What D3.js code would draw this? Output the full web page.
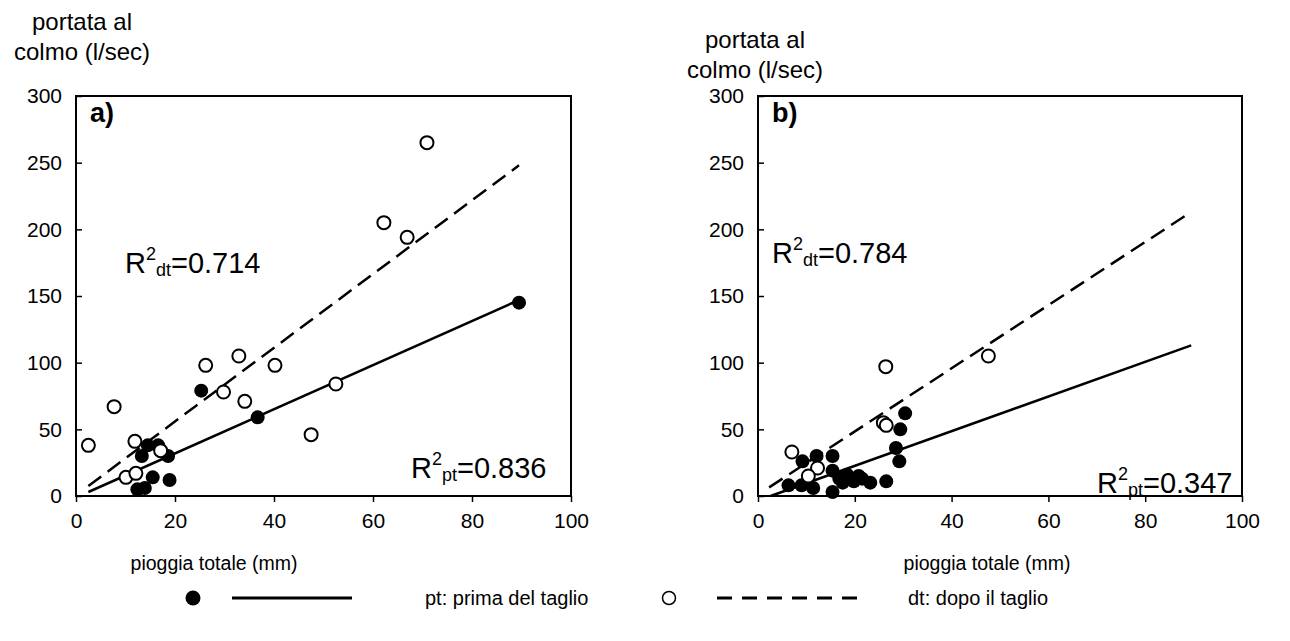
<!DOCTYPE html>
<html><head><meta charset="utf-8">
<script src="https://cdn.jsdelivr.net/npm/d3@7"></script>
<style>body{margin:0;background:#fff}svg{display:block}text{font-family:"Liberation Sans",Arial,sans-serif;fill:#000}</style>
</head><body><svg id="c" width="1290" height="641"></svg>
<script>
// ---- data ----
const xTicks = [0, 20, 40, 60, 80, 100];
const yTicks = [0, 50, 100, 150, 200, 250, 300];
const aPrima = [[25.3,79],[14.5,38],[16.6,38],[13.3,30],[18.6,30],[15.5,14],[18.9,12],[12.4,5],[13.9,6],[36.7,59],[89.5,145]];
const aDopo = [[2.5,38],[7.7,67],[11.9,41],[17.1,34],[10.1,14],[12.1,17],[26.2,98],[29.8,78],[32.9,105],[34.1,71],[40.2,98],[52.5,84],[47.5,46],[62.2,205],[66.9,194],[70.9,265]];
const bPrima = [[29.4,50],[28.5,36],[29.2,26],[26.5,11],[9.2,26],[12.1,30],[15.4,30],[6.3,8],[9.0,8],[11.4,6],[15.4,19],[15.4,3],[16.8,13],[18.4,16],[19.8,11],[20.8,15],[23.2,10],[17.5,10],[21.5,13],[30.4,62]];
const bDopo = [[7,33],[12.3,21],[10.4,15],[25.9,55],[26.5,53],[26.4,97],[47.6,105]];
const aLinePrima = [[2.5,3],[89.5,147]];
const aLineDopo = [[2.5,7.5],[89.5,248]];
const bLinePrima = [[2.6,0],[89.5,113]];
const bLineDopo = [[2.3,6.5],[89.5,213]];
const labels = {a:"a)", b:"b)"};
const r2dt = {a:"0.714", b:"0.784"};
const r2pt = {a:"0.836", b:"0.347"};

const svg = d3.select("#c");
const DASH = "16,8";

function panel(key, L, R, T, B, prima, dopo, lp, ld, o) {
  const x = d3.scaleLinear().domain([0,100]).range([L,R]);
  const y = d3.scaleLinear().domain([0,300]).range([B,T]);
  const g = svg.append("g");
  g.append("rect").attr("x",L).attr("y",T).attr("width",R-L).attr("height",B-T)
    .attr("fill","none").attr("stroke","#000").attr("stroke-width",2);
  const ya = g.append("g").attr("transform",`translate(${L},0)`)
    .call(d3.axisLeft(y).tickValues(yTicks).tickSize(-6).tickPadding(14));
  ya.select(".domain").remove();
  ya.selectAll("line").attr("stroke-width",1.5);
  ya.selectAll("text").style("font-size","21px");
  const xa = g.append("g").attr("transform",`translate(0,${B})`)
    .call(d3.axisBottom(x).tickValues(xTicks).tickSize(6).tickPadding(11));
  xa.select(".domain").remove();
  xa.selectAll("line").attr("stroke-width",1.5);
  xa.selectAll("text").style("font-size","21px");
  const line = d3.line().x(d=>x(d[0])).y(d=>y(d[1]));
  g.append("path").attr("d",line(lp)).attr("fill","none").attr("stroke","#000").attr("stroke-width",2.5);
  g.append("path").attr("d",line(ld)).attr("fill","none").attr("stroke","#000").attr("stroke-width",2.5).attr("stroke-dasharray",DASH);
  g.selectAll(".p").data(prima).join("circle").attr("cx",d=>x(d[0])).attr("cy",d=>y(d[1])).attr("r",7).attr("fill","#000");
  g.selectAll(".d").data(dopo).join("circle").attr("cx",d=>x(d[0])).attr("cy",d=>y(d[1])).attr("r",6.5).attr("fill","#fff").attr("stroke","#000").attr("stroke-width",2);
  g.append("text").attr("x",L+14).attr("y",T+26).style("font-size","27px").style("font-weight","bold").text(labels[key]);
  function r2(xp, yp, sub, val) {
    const t = g.append("text").attr("x",xp).attr("y",yp).style("font-size","29px");
    t.append("tspan").text("R");
    t.append("tspan").attr("dy",-13).style("font-size","18px").text("2");
    t.append("tspan").attr("dy",16).style("font-size","18px").text(sub);
    t.append("tspan").attr("dy",-3).text("=" + val);
  }
  r2(o.dtx, o.dty, "dt", r2dt[key]);
  r2(o.ptx, o.pty, "pt", r2pt[key]);
  g.append("text").attr("x",o.ytx).attr("y",o.yty).attr("text-anchor","middle").style("font-size","24px").text("portata al");
  g.append("text").attr("x",o.ytx).attr("y",o.yty+30).attr("text-anchor","middle").style("font-size","24px").text("colmo (l/sec)");
  g.append("text").attr("x",o.xtx).attr("y",570).attr("text-anchor","middle").style("font-size","19.5px").text("pioggia totale (mm)");
}

panel("a", 76, 571, 96, 496, aPrima, aDopo, aLinePrima, aLineDopo,
  {dtx:125, dty:273, ptx:411, pty:478, ytx:82, yty:30, xtx:214});
panel("b", 758, 1242, 96, 496, bPrima, bDopo, bLinePrima, bLineDopo,
  {dtx:772, dty:263, ptx:1097, pty:493, ytx:755, yty:48, xtx:987});

// legend
const lg = svg.append("g");
const ly = 598;
lg.append("circle").attr("cx",193).attr("cy",ly).attr("r",7.5).attr("fill","#000");
lg.append("line").attr("x1",232).attr("x2",352).attr("y1",ly).attr("y2",ly).attr("stroke","#000").attr("stroke-width",3);
lg.append("text").attr("x",425).attr("y",ly+7).style("font-size","20px").text("pt: prima del taglio");
lg.append("circle").attr("cx",669).attr("cy",ly).attr("r",6.5).attr("fill","#fff").attr("stroke","#000").attr("stroke-width",1.5);
lg.append("line").attr("x1",717).attr("x2",860).attr("y1",ly).attr("y2",ly).attr("stroke","#000").attr("stroke-width",3).attr("stroke-dasharray","15,10");
lg.append("text").attr("x",908).attr("y",ly+7).style("font-size","20px").text("dt: dopo il taglio");
</script></body></html>
